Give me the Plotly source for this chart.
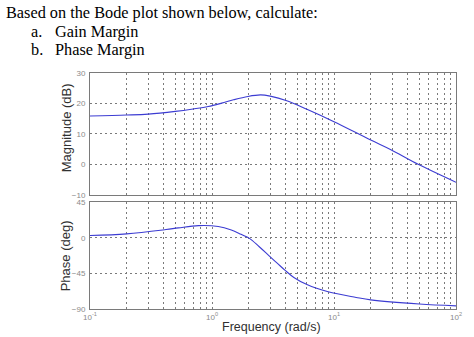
import plotly.graph_objects as go

freq_mag = [0.1, 0.2, 0.3, 0.5, 0.7, 0.93, 1.2, 1.5, 1.97, 2.5, 3.0, 4.1, 6.0, 9.9, 20, 29, 49, 100]
magnitude_db = [15.9, 16.2, 16.5, 17.4, 18.2, 19.0, 20.1, 21.2, 22.3, 22.8, 22.4, 20.9, 18.1, 14.1, 8.0, 4.9, 0.0, -5.9]

freq_ph = [0.1, 0.2, 0.42, 0.53, 0.775, 1.125, 1.44, 1.73, 2.03, 2.44, 2.94, 3.44, 4.0, 4.69,
           6.0, 8.96, 15.2, 20, 50, 100]
phase_deg = [2.8, 4.9, 10.3, 12.4, 15.3, 14.2, 9.7, 4.3, -0.8, -11.4, -22.8, -32.4, -41.6, -50.2,
             -59.2, -68.3, -75.4, -78.5, -83.7, -86]

mag_ticks = [-10, 0, 10, 20, 30]
phase_ticks = [-90, -45, 0, 45]
decades = [0.1, 1, 10, 100]
decade_labels = ["10<sup>-1</sup>", "10<sup>0</sup>", "10<sup>1</sup>", "10<sup>2</sup>"]

header_lines = ["Based on the Bode plot shown below, calculate:", "a.", "Gain Margin", "b.", "Phase Margin"]

# minor log grid positions (2..9 in each decade)
minor_vals = [d * k for d in decades[:-1] for k in range(2, 10)]

line_color = "#3c3cd2"
grid_color = "#7a7a7a"
frame_color = "#7a7a7a"
dash = "2px,3px"
tick_font = dict(family="Liberation Sans", size=8, color="#8a8a8a")

fig = go.Figure()
fig.add_trace(go.Scatter(x=freq_mag, y=magnitude_db, mode="lines", xaxis="x", yaxis="y",
                         line=dict(color=line_color, width=1.1, shape="spline", smoothing=1.0),
                         showlegend=False))
fig.add_trace(go.Scatter(x=freq_ph, y=phase_deg, mode="lines", xaxis="x2", yaxis="y2",
                         line=dict(color=line_color, width=1.1, shape="spline", smoothing=1.0),
                         showlegend=False))

xcommon = dict(type="log", range=[-1, 2], showgrid=True, gridcolor=grid_color, griddash=dash,
               gridwidth=1, showline=True, mirror=True, linecolor=frame_color, linewidth=1,
               tickmode="array", tickvals=decades, ticktext=decade_labels, ticks="", zeroline=False,
               tickfont=tick_font,
               minor=dict(tickmode="array", tickvals=minor_vals, showgrid=True,
                          gridcolor=grid_color, griddash=dash, gridwidth=1, ticks=""))
ycommon = dict(showgrid=True, gridcolor=grid_color, griddash=dash, gridwidth=1,
               showline=True, mirror=True, linecolor=frame_color, linewidth=1,
               ticks="", zeroline=False, tickfont=tick_font, ticklabelstandoff=2)

fig.update_layout(
    width=474, height=337,
    margin=dict(l=90, r=13, t=73, b=28),
    paper_bgcolor="white", plot_bgcolor="white",
    xaxis=dict(xcommon, domain=[0, 1], anchor="y", showticklabels=False),
    yaxis=dict(ycommon, domain=[0.484, 1], range=[-10, 30], tickvals=mag_ticks, anchor="x"),
    xaxis2=dict(xcommon, domain=[0, 1], anchor="y2", showticklabels=True, matches="x"),
    yaxis2=dict(ycommon, domain=[0, 0.453], range=[-90, 45], tickvals=phase_ticks, anchor="x2"),
)

serif = dict(family="Liberation Serif", size=16.3, color="black")
ann = [
    dict(text=header_lines[0], x=3, y=12),
    dict(text=header_lines[1], x=28, y=31),
    dict(text=header_lines[2], x=52, y=31),
    dict(text=header_lines[3], x=28, y=49),
    dict(text=header_lines[4], x=52, y=49),
]
for a in ann:
    fig.add_annotation(text=a["text"], xref="paper", yref="paper",
                       x=(a["x"] - 90) / (474 - 90 - 13), y=(337 - 28 - a["y"]) / (337 - 73 - 28),
                       xanchor="left", yanchor="middle", showarrow=False, font=serif)

sans = dict(family="Liberation Sans", size=13, color="#303030")
fig.add_annotation(text="Magnitude (dB)", xref="paper", yref="paper",
                   x=(66 - 90) / 371, y=(309 - 128) / 236, textangle=-90,
                   xanchor="center", yanchor="middle", showarrow=False, font=sans)
fig.add_annotation(text="Phase (deg)", xref="paper", yref="paper",
                   x=(66 - 90) / 371, y=(309 - 256) / 236, textangle=-90,
                   xanchor="center", yanchor="middle", showarrow=False, font=sans)
fig.add_annotation(text="Frequency (rad/s)", xref="paper", yref="paper",
                   x=(274 - 90) / 371, y=(309 - 327) / 236,
                   xanchor="center", yanchor="middle", showarrow=False,
                   font=dict(family="Liberation Sans", size=12.5, color="#303030"))

fig.write_html("out.html")
